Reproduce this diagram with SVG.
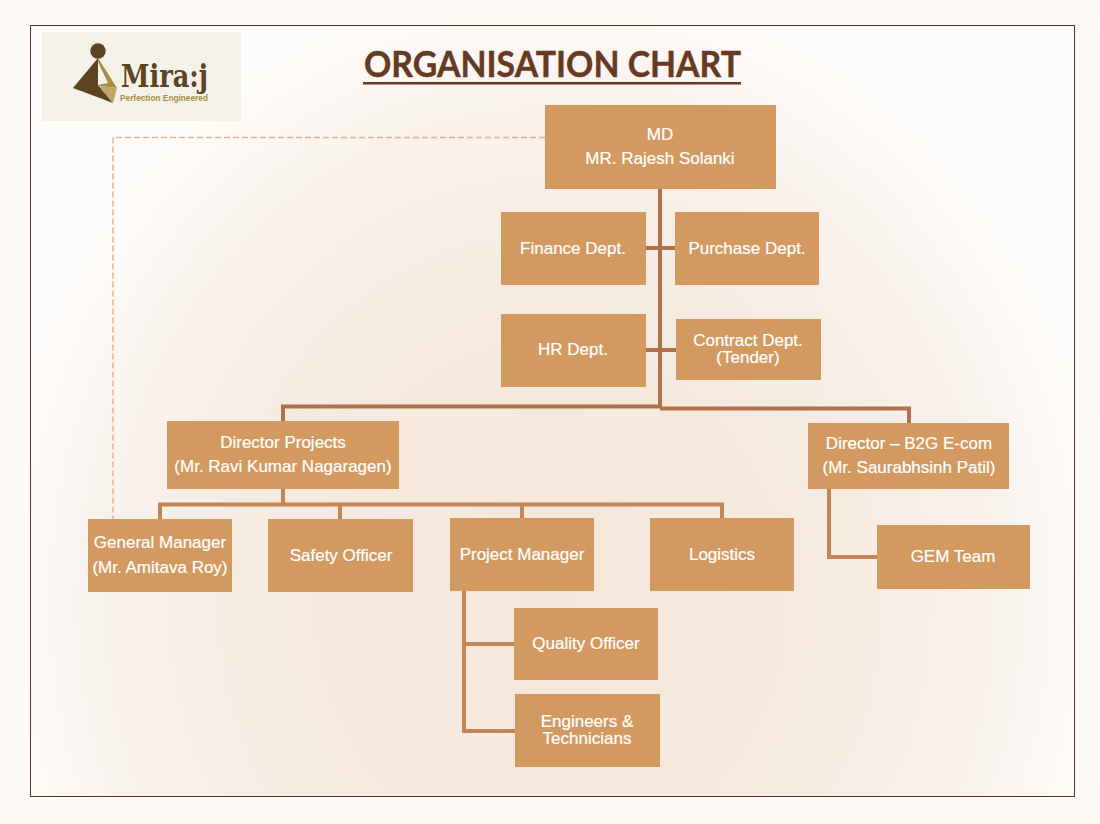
<svg xmlns="http://www.w3.org/2000/svg" width="1100" height="824" viewBox="0 0 1100 824">
<style>
.n{fill:#d29a61}
.t{font-family:"Liberation Sans",Arial,sans-serif;font-size:17px;fill:#fff;stroke:#fff;stroke-width:.2;text-anchor:middle}
.c{fill:none;stroke:#b0704a;stroke-width:4}
.c2{fill:none;stroke:#c58656;stroke-width:4}
</style>
<defs>
<radialGradient id="bg" gradientUnits="userSpaceOnUse" cx="0" cy="0" r="1" gradientTransform="translate(550 600) scale(560 620)">
<stop offset="0" stop-color="#f5e6d9"/><stop offset="0.55" stop-color="#f6ebe1"/><stop offset="0.8" stop-color="#f9f2ec"/><stop offset="1" stop-color="#fefcfa"/>
</radialGradient>
</defs>
<rect width="1100" height="824" fill="#fdf9f5"/>
<rect x="30.500" y="25.500" width="1044" height="771" fill="url(#bg)" stroke="#5c3424" stroke-width="1"/>
<g id="logo">
<rect x="42" y="32" width="199" height="89" fill="#f4f1e9"/>
<circle cx="98" cy="51" r="7.700" fill="#5c4422"/>
<path d="M98 58L73 88L113 103L98 85Z" fill="#5c4422"/>
<path d="M98 58L117 88L99 86Z" fill="#a88b45"/>
<path d="M99 86L117 88L113 103Z" fill="#c2a668"/>
<path d="M98 62L108 83L98 85Z" fill="#f4f1e9"/>
<text x="121" y="87" font-family="'DejaVu Serif',serif" font-weight="700" font-size="32" fill="#5c4422" textLength="87" lengthAdjust="spacingAndGlyphs">Mira:j</text>
<text x="120" y="101" font-family="'Liberation Sans',sans-serif" font-weight="700" font-size="8.500" fill="#a88b45" textLength="88" lengthAdjust="spacingAndGlyphs">Perfection Engineered</text>
</g>
<g id="title">
<text x="552.500" y="77" font-family="Lato,'Open Sans',sans-serif" font-weight="700" font-size="36" fill="#663a22" stroke="#663a22" stroke-width=".4" text-anchor="middle" textLength="377" lengthAdjust="spacingAndGlyphs">ORGANISATION CHART</text>
<rect x="363" y="82" width="378" height="2.500" fill="#663a22"/>
</g>
<g id="connectors">
<path d="M545 137.500H113V519" fill="none" stroke="#e5b38e" stroke-width="1.500" stroke-dasharray="6 3"/>
<path class="c" d="M660 189V408"/>
<path class="c" d="M646 248H675M646 350H676"/>
<path class="c" d="M660 406.500H283V421M660 408.500H909V423"/>
<path class="c2" d="M283 489V504M160 519V504.500H722V518M340 504V519M522 504V518"/>
<path class="c2" d="M829 489V557H877"/>
<path class="c2" d="M464 591V731H515M464 644H514"/>
</g>
<g id="md"><rect class="n" x="545" y="105" width="231" height="84"/><text class="t" x="660" y="140">MD</text><text class="t" x="660" y="164">MR. Rajesh Solanki</text></g>
<g id="finance"><rect class="n" x="501" y="212" width="145" height="73"/><text class="t" x="573" y="254">Finance Dept.</text></g>
<g id="purchase"><rect class="n" x="675" y="212" width="144" height="73"/><text class="t" x="747" y="254">Purchase Dept.</text></g>
<g id="hr"><rect class="n" x="501" y="314" width="145" height="73"/><text class="t" x="573" y="355">HR Dept.</text></g>
<g id="contract"><rect class="n" x="676" y="319" width="145" height="61"/><text class="t" x="748" y="346">Contract Dept.</text><text class="t" x="748" y="363">(Tender)</text></g>
<g id="dir-projects"><rect class="n" x="167" y="421" width="232" height="68"/><text class="t" x="283" y="448">Director Projects</text><text class="t" x="283" y="472">(Mr. Ravi Kumar Nagaragen)</text></g>
<g id="dir-b2g"><rect class="n" x="808" y="423" width="201" height="66"/><text class="t" x="909" y="449">Director – B2G E-com</text><text class="t" x="909" y="473">(Mr. Saurabhsinh Patil)</text></g>
<g id="gm"><rect class="n" x="88" y="519" width="144" height="73"/><text class="t" x="160" y="548">General Manager</text><text class="t" x="160" y="573">(Mr. Amitava Roy)</text></g>
<g id="safety"><rect class="n" x="268" y="519" width="145" height="73"/><text class="t" x="341" y="561">Safety Officer</text></g>
<g id="pm"><rect class="n" x="450" y="518" width="144" height="73"/><text class="t" x="522" y="560">Project Manager</text></g>
<g id="logistics"><rect class="n" x="650" y="518" width="144" height="73"/><text class="t" x="722" y="560">Logistics</text></g>
<g id="gem"><rect class="n" x="877" y="525" width="153" height="64"/><text class="t" x="953" y="562">GEM Team</text></g>
<g id="quality"><rect class="n" x="514" y="608" width="144" height="72"/><text class="t" x="586" y="649">Quality Officer</text></g>
<g id="engineers"><rect class="n" x="515" y="694" width="145" height="73"/><text class="t" x="587" y="727">Engineers &amp;</text><text class="t" x="587" y="744">Technicians</text></g>
</svg>
